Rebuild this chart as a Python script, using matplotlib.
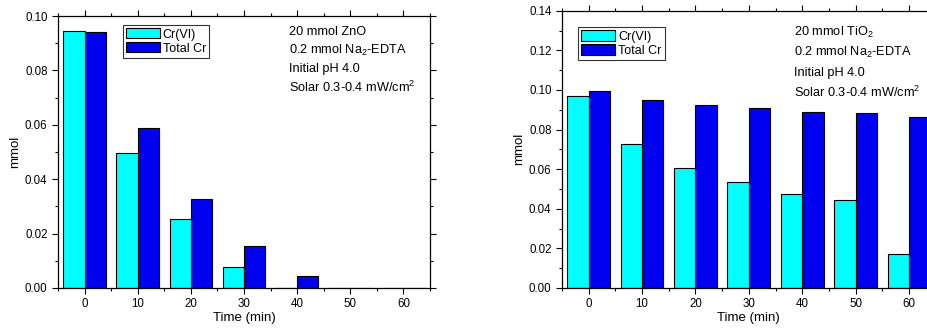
import matplotlib.pyplot as plt
from matplotlib.ticker import MultipleLocator

plt.rcParams['font.family'] = ['Liberation Sans', 'DejaVu Sans']
plt.rcParams['mathtext.fontset'] = 'custom'
plt.rcParams['mathtext.rm'] = 'Liberation Sans'
plt.rcParams['mathtext.it'] = 'Liberation Sans:italic'
plt.rcParams['mathtext.bf'] = 'Liberation Sans:bold'

# データ
times = [0, 10, 20, 30, 40, 50, 60]
zno_cr6 = [0.0945, 0.0497, 0.0255, 0.0078, 0.0, 0.0, 0.0]
zno_total = [0.0940, 0.0589, 0.0326, 0.0156, 0.0044, 0.0, 0.0]
tio2_cr6 = [0.0969, 0.0728, 0.0607, 0.0534, 0.0473, 0.0444, 0.0170]
tio2_total = [0.0993, 0.0949, 0.0924, 0.0907, 0.0890, 0.0885, 0.0865]

zno_notes = ["20 mmol ZnO", "0.2 mmol Na$_2$-EDTA", "Initial pH 4.0",
             "Solar 0.3-0.4 mW/cm$^2$"]
tio2_notes = ["20 mmol TiO$_2$", "0.2 mmol Na$_2$-EDTA", "Initial pH 4.0",
              "Solar 0.3-0.4 mW/cm$^2$"]

cyan = '#00FFFF'
blue = '#0000F0'
w = 4

fig = plt.figure(figsize=(9.28, 3.3), dpi=100)


def panel(rect, cr6, total, ymax, notes, leg_box, note_xy, note_dy):
    ax = fig.add_axes(rect)
    ax.bar([t - w / 2 for t in times], cr6, width=w, color=cyan,
           edgecolor='black', linewidth=0.8, label='Cr(VI)')
    ax.bar([t + w / 2 for t in times], total, width=w, color=blue,
           edgecolor='black', linewidth=0.8, label='Total Cr')
    ax.set_xlim(-5, 65)
    ax.set_ylim(0, ymax)
    ax.xaxis.set_major_locator(MultipleLocator(10))
    ax.xaxis.set_minor_locator(MultipleLocator(5))
    ax.yaxis.set_major_locator(MultipleLocator(0.02))
    ax.yaxis.set_minor_locator(MultipleLocator(0.01))
    ax.yaxis.set_major_formatter(lambda v, p: f"{v:.2f}")
    ax.tick_params(which='both', direction='out', top=True, right=True,
                   labelsize=8.3, width=0.8)
    ax.tick_params(which='major', length=4)
    ax.tick_params(which='minor', length=2.5)
    for s in ax.spines.values():
        s.set_linewidth(0.9)
    ax.set_xlabel("Time (min)", fontsize=9.5, labelpad=1)
    ax.set_ylabel("mmol", fontsize=9.5, labelpad=3)
    leg = ax.legend(loc='upper left', bbox_to_anchor=leg_box, fontsize=9,
                    frameon=True, fancybox=False, edgecolor='black',
                    handlelength=2.7, handleheight=0.9, handletextpad=0.25,
                    borderpad=0.25, labelspacing=0.12, borderaxespad=0)
    leg.get_frame().set_linewidth(0.8)
    x0, y0 = note_xy
    for i, n in enumerate(notes):
        ax.text(x0, y0 - i * note_dy, n, transform=ax.transAxes,
                fontsize=9.2, va='center', ha='left')
    return ax


panel([58 / 928, 42 / 330, 372 / 928, 272 / 330], zno_cr6, zno_total, 0.10,
      zno_notes, (0.174, 0.967), (0.62, 0.943), 0.069)
panel([562 / 928, 42 / 330, 373.7 / 928, 277.3 / 330], tio2_cr6, tio2_total,
      0.14, tio2_notes, (0.043, 0.94), (0.62, 0.923), 0.073)

fig.savefig("out.png", dpi=100)
